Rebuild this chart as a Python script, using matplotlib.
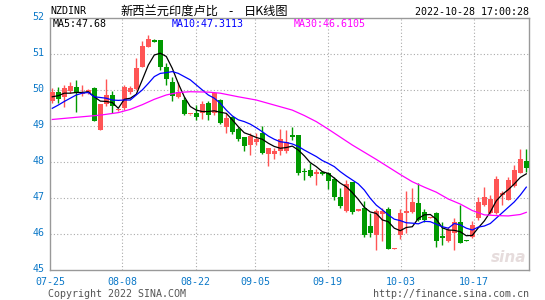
import matplotlib
matplotlib.use("Agg")
import matplotlib.pyplot as plt
import matplotlib.transforms as mtransforms

# ---------------- data ----------------
opens = [49.70, 49.94, 49.80, 49.99, 50.08, 49.90, 49.93, 50.06, 48.91, 49.62,
         49.87, 49.44, 49.50, 49.96, 50.03, 50.66, 51.21, 51.40, 51.40, 50.64,
         50.24, 49.82, 49.73, 49.33, 49.36, 49.38, 49.66, 49.38, 49.73, 48.99,
         49.25, 48.93, 48.69, 48.47, 48.55, 48.81, 48.23, 48.23, 48.30, 48.31,
         48.75, 48.76, 47.77, 47.79, 47.67, 47.74, 47.71, 47.53, 47.03, 46.66,
         47.44, 46.66, 46.72, 46.23, 45.98, 46.56, 46.69, 45.60, 45.98, 46.60,
         46.63, 46.88, 46.63, 46.45, 46.60, 45.95, 45.80, 46.03, 46.35, 45.83,
         45.92, 46.44, 46.80, 46.60, 46.60, 47.10, 46.95, 47.34, 47.71, 48.04]
highs = [50.06, 50.10, 50.15, 50.24, 50.29, 50.15, 50.03, 50.10, 49.62, 50.31,
         49.98, 49.48, 50.15, 50.12, 50.89, 51.38, 51.54, 51.43, 51.40, 50.75,
         50.36, 50.24, 49.82, 49.35, 49.59, 49.69, 49.69, 49.96, 49.75, 49.36,
         49.29, 48.99, 48.71, 48.81, 48.82, 49.01, 48.39, 48.39, 48.92, 48.90,
         48.97, 48.76, 47.83, 47.97, 47.81, 47.76, 47.74, 47.60, 47.28, 47.51,
         47.46, 46.69, 46.93, 46.60, 46.69, 46.74, 46.75, 45.62, 46.69, 47.19,
         47.28, 47.42, 46.69, 46.47, 46.63, 46.35, 46.21, 46.44, 46.81, 45.84,
         46.36, 47.03, 47.32, 47.09, 47.62, 47.21, 47.60, 47.93, 48.37, 48.37]
lows = [49.64, 49.66, 49.53, 49.92, 49.41, 49.84, 49.90, 49.16, 48.91, 49.56,
        49.38, 49.43, 49.45, 49.90, 50.01, 50.64, 51.19, 51.35, 50.56, 50.15,
        49.70, 49.78, 49.31, 49.32, 49.18, 49.19, 49.18, 49.31, 49.06, 48.81,
        48.79, 48.60, 48.31, 48.20, 48.48, 48.23, 47.91, 48.09, 48.20, 48.27,
        48.62, 47.65, 47.51, 47.60, 47.37, 47.65, 47.25, 46.94, 46.72, 46.63,
        46.56, 46.65, 45.92, 45.92, 45.56, 45.82, 45.58, 45.60, 45.86, 46.03,
        46.58, 46.38, 46.35, 46.44, 45.66, 45.70, 45.78, 45.56, 45.75, 45.80,
        45.90, 46.40, 46.79, 46.56, 46.56, 46.81, 46.94, 47.32, 47.69, 47.74]
closes = [49.96, 49.75, 50.06, 50.12, 49.92, 49.93, 50.00, 49.16, 49.62, 49.87,
          49.55, 49.47, 50.08, 50.05, 50.61, 51.23, 51.42, 51.35, 50.64, 50.31,
          49.84, 49.94, 49.34, 49.34, 49.25, 49.62, 49.30, 49.92, 49.08, 49.24,
          48.85, 48.64, 48.44, 48.73, 48.64, 48.25, 48.39, 48.30, 48.64, 48.56,
          48.71, 47.71, 47.72, 47.63, 47.74, 47.68, 47.49, 47.03, 46.79, 47.40,
          46.63, 46.68, 45.98, 46.04, 46.66, 46.66, 45.58, 45.62, 46.60, 46.66,
          46.91, 46.40, 46.40, 46.47, 45.82, 45.89, 46.12, 46.35, 45.77, 45.81,
          46.25, 46.91, 47.03, 46.97, 47.53, 47.16, 47.51, 47.79, 48.09, 47.85]

ma5 = [49.82, 49.85, 49.92, 49.92, 49.94, 49.94, 49.96, 49.82, 49.70, 49.69,
       49.66, 49.50, 49.75, 49.78, 49.89, 50.29, 50.70, 50.98, 51.03, 50.94,
       50.61, 50.19, 49.82, 49.55, 49.45, 49.41, 49.41, 49.43, 49.39, 49.36,
       49.18, 48.99, 48.82, 48.76, 48.69, 48.64, 48.53, 48.44, 48.39, 48.41,
       48.45, 48.34, 48.18, 47.99, 47.88, 47.74, 47.69, 47.56, 47.42, 47.32,
       47.16, 46.97, 46.75, 46.62, 46.58, 46.40, 46.35, 46.17, 46.10, 46.19,
       46.21, 46.44, 46.54, 46.55, 46.42, 46.18, 46.12, 46.11, 46.07, 45.96,
       45.97, 46.18, 46.37, 46.62, 46.93, 47.11, 47.24, 47.40, 47.58, 47.68]
ma10 = [49.50, 49.59, 49.69, 49.78, 49.87, 49.92, 49.94, 49.82, 49.80, 49.78,
        49.73, 49.72, 49.73, 49.73, 49.87, 50.01, 50.19, 50.38, 50.47, 50.49,
        50.52, 50.47, 50.38, 50.29, 50.15, 50.01, 49.87, 49.78, 49.64, 49.45,
        49.29, 49.18, 49.13, 49.06, 48.96, 48.85, 48.73, 48.64, 48.57, 48.55,
        48.51, 48.44, 48.34, 48.25, 48.16, 48.05, 47.97, 47.88, 47.74, 47.62,
        47.51, 47.40, 47.23, 47.00, 46.81, 46.68, 46.54, 46.42, 46.38, 46.32,
        46.31, 46.29, 46.36, 46.35, 46.28, 46.21, 46.17, 46.30, 46.26, 46.17,
        46.12, 46.20, 46.23, 46.30, 46.45, 46.60, 46.75, 46.90, 47.09, 47.31]
ma30_idx = [0, 4, 8, 11, 13, 15, 17, 19, 21, 23, 26, 28, 31, 34, 37, 40, 42,
            44, 46, 48, 50, 52, 54, 56, 58, 60, 62, 64, 66, 68, 70, 72, 74,
            76, 78, 79]
ma30_val = [49.19, 49.25, 49.31, 49.38, 49.47, 49.60, 49.75, 49.87, 49.94,
            49.96, 49.95, 49.92, 49.82, 49.73, 49.59, 49.45, 49.30, 49.13,
            48.92, 48.70, 48.48, 48.28, 48.08, 47.87, 47.66, 47.46, 47.31,
            47.17, 46.98, 46.84, 46.66, 46.54, 46.52, 46.51, 46.55, 46.61]

date_labels = ["07-25", "08-08", "08-22", "09-05", "09-19", "10-03", "10-17"]
y_ticks = [45, 46, 47, 48, 49, 50, 51, 52]

# ---------------- layout / style ----------------
W, H = 545, 300
tick_pos = [-0.38, 11.6, 23.9, 33.8, 45.9, 58.1, 70.3]
UP = "#ff5555"
DOWN = "#009900"
BLUE_TXT = "#0b78c8"
GRID = "#aaaaaa"
FRAME = "#999999"
MONO = "DejaVu Sans Mono"
CJK = ["Noto Sans CJK SC", "DejaVu Sans"]

fig = plt.figure(figsize=(W / 100, H / 100), dpi=100)
fig.patch.set_facecolor("white")
left, right, top, bottom = 50, 529.3, 18.3, 270.3
ax = fig.add_axes([left / W, 1 - bottom / H, (right - left) / W, (bottom - top) / H])
ax.set_xlim(-0.38, 79.5)
ax.set_ylim(45, 52)

for s in ax.spines.values():
    s.set_color(FRAME)
    s.set_linewidth(1.0)

# grid
for yv in y_ticks[1:-1]:
    ax.axhline(yv, color=GRID, lw=0.8, ls=(0, (1, 2)), zorder=0)
for xv in tick_pos[1:]:
    ax.axvline(xv, color=GRID, lw=0.8, ls=(0, (1, 2)), zorder=0)

# candles
n = len(closes)
xs = list(range(n))
for i in xs:
    o, h, l, c = opens[i], highs[i], lows[i], closes[i]
    col = UP if c >= o else DOWN
    ax.vlines(i, l, h, color=col, lw=1.0, zorder=2)
    lo = min(o, c)
    ht = max(abs(c - o), 0.03)
    ax.bar(i, ht, bottom=lo, width=0.8, color=col, edgecolor=col,
           linewidth=0, zorder=3)

# moving averages
ax.plot(xs, ma5, color="black", lw=0.9, zorder=4)
ax.plot(xs, ma10, color="#0000ff", lw=0.9, zorder=4)
ax.plot(ma30_idx, ma30_val, color="#ff00ff", lw=0.9, zorder=4)

# ticks
ax.set_xticks(tick_pos)
ax.set_xticklabels(date_labels)
ax.set_yticks(y_ticks)
ax.set_yticklabels([str(v) for v in y_ticks])
ax.tick_params(axis="both", length=0, colors=BLUE_TXT, labelsize=7.2)
ax.tick_params(axis="x", pad=5)
ax.tick_params(axis="y", pad=4)
for lab in ax.get_xticklabels() + ax.get_yticklabels():
    lab.set_family(MONO)
off = mtransforms.ScaledTranslation(0, 2 / 72, fig.dpi_scale_trans)
for lab in ax.get_yticklabels():
    lab.set_transform(lab.get_transform() + off)

# text helpers in pixel coords
def ptext(x, y, s, **kw):
    fig.text(x / W, 1 - y / H, s, va="center", **kw)

ptext(50, 11, "NZDINR", family=MONO, fontsize=7.2, color="black")
ptext(120, 11.5, "新西兰元印度卢比", family=CJK, fontsize=8.8, color="black")
ptext(231, 11.5, "-", family=CJK, fontsize=8.8, color="black", ha="center")
ptext(244, 11.5, "日K线图", family=CJK, fontsize=8.8, color="black")
ptext(529, 12, "2022-10-28 17:00:28", family=MONO, fontsize=7.2,
      color="black", ha="right")
ptext(53, 24, "MA5:47.68", family=MONO, fontsize=7.2, color="black")
ptext(172, 24, "MA10:47.3113", family=MONO, fontsize=7.2, color="#0000ff")
ptext(294, 24, "MA30:46.6105", family=MONO, fontsize=7.2, color="#ff00ff")
ptext(48, 294, "Copyright 2022 SINA.COM", family=MONO, fontsize=7.2,
      color="#555555")
ptext(529, 294, "http://finance.sina.com.cn", family=MONO, fontsize=7.2,
      color="#555555", ha="right")
ptext(526, 258, "sina", family="DejaVu Sans", fontsize=11, color="#e6dcdc",
      ha="right", style="italic", fontweight="bold")

fig.savefig("out.png", dpi=100, facecolor="white")
